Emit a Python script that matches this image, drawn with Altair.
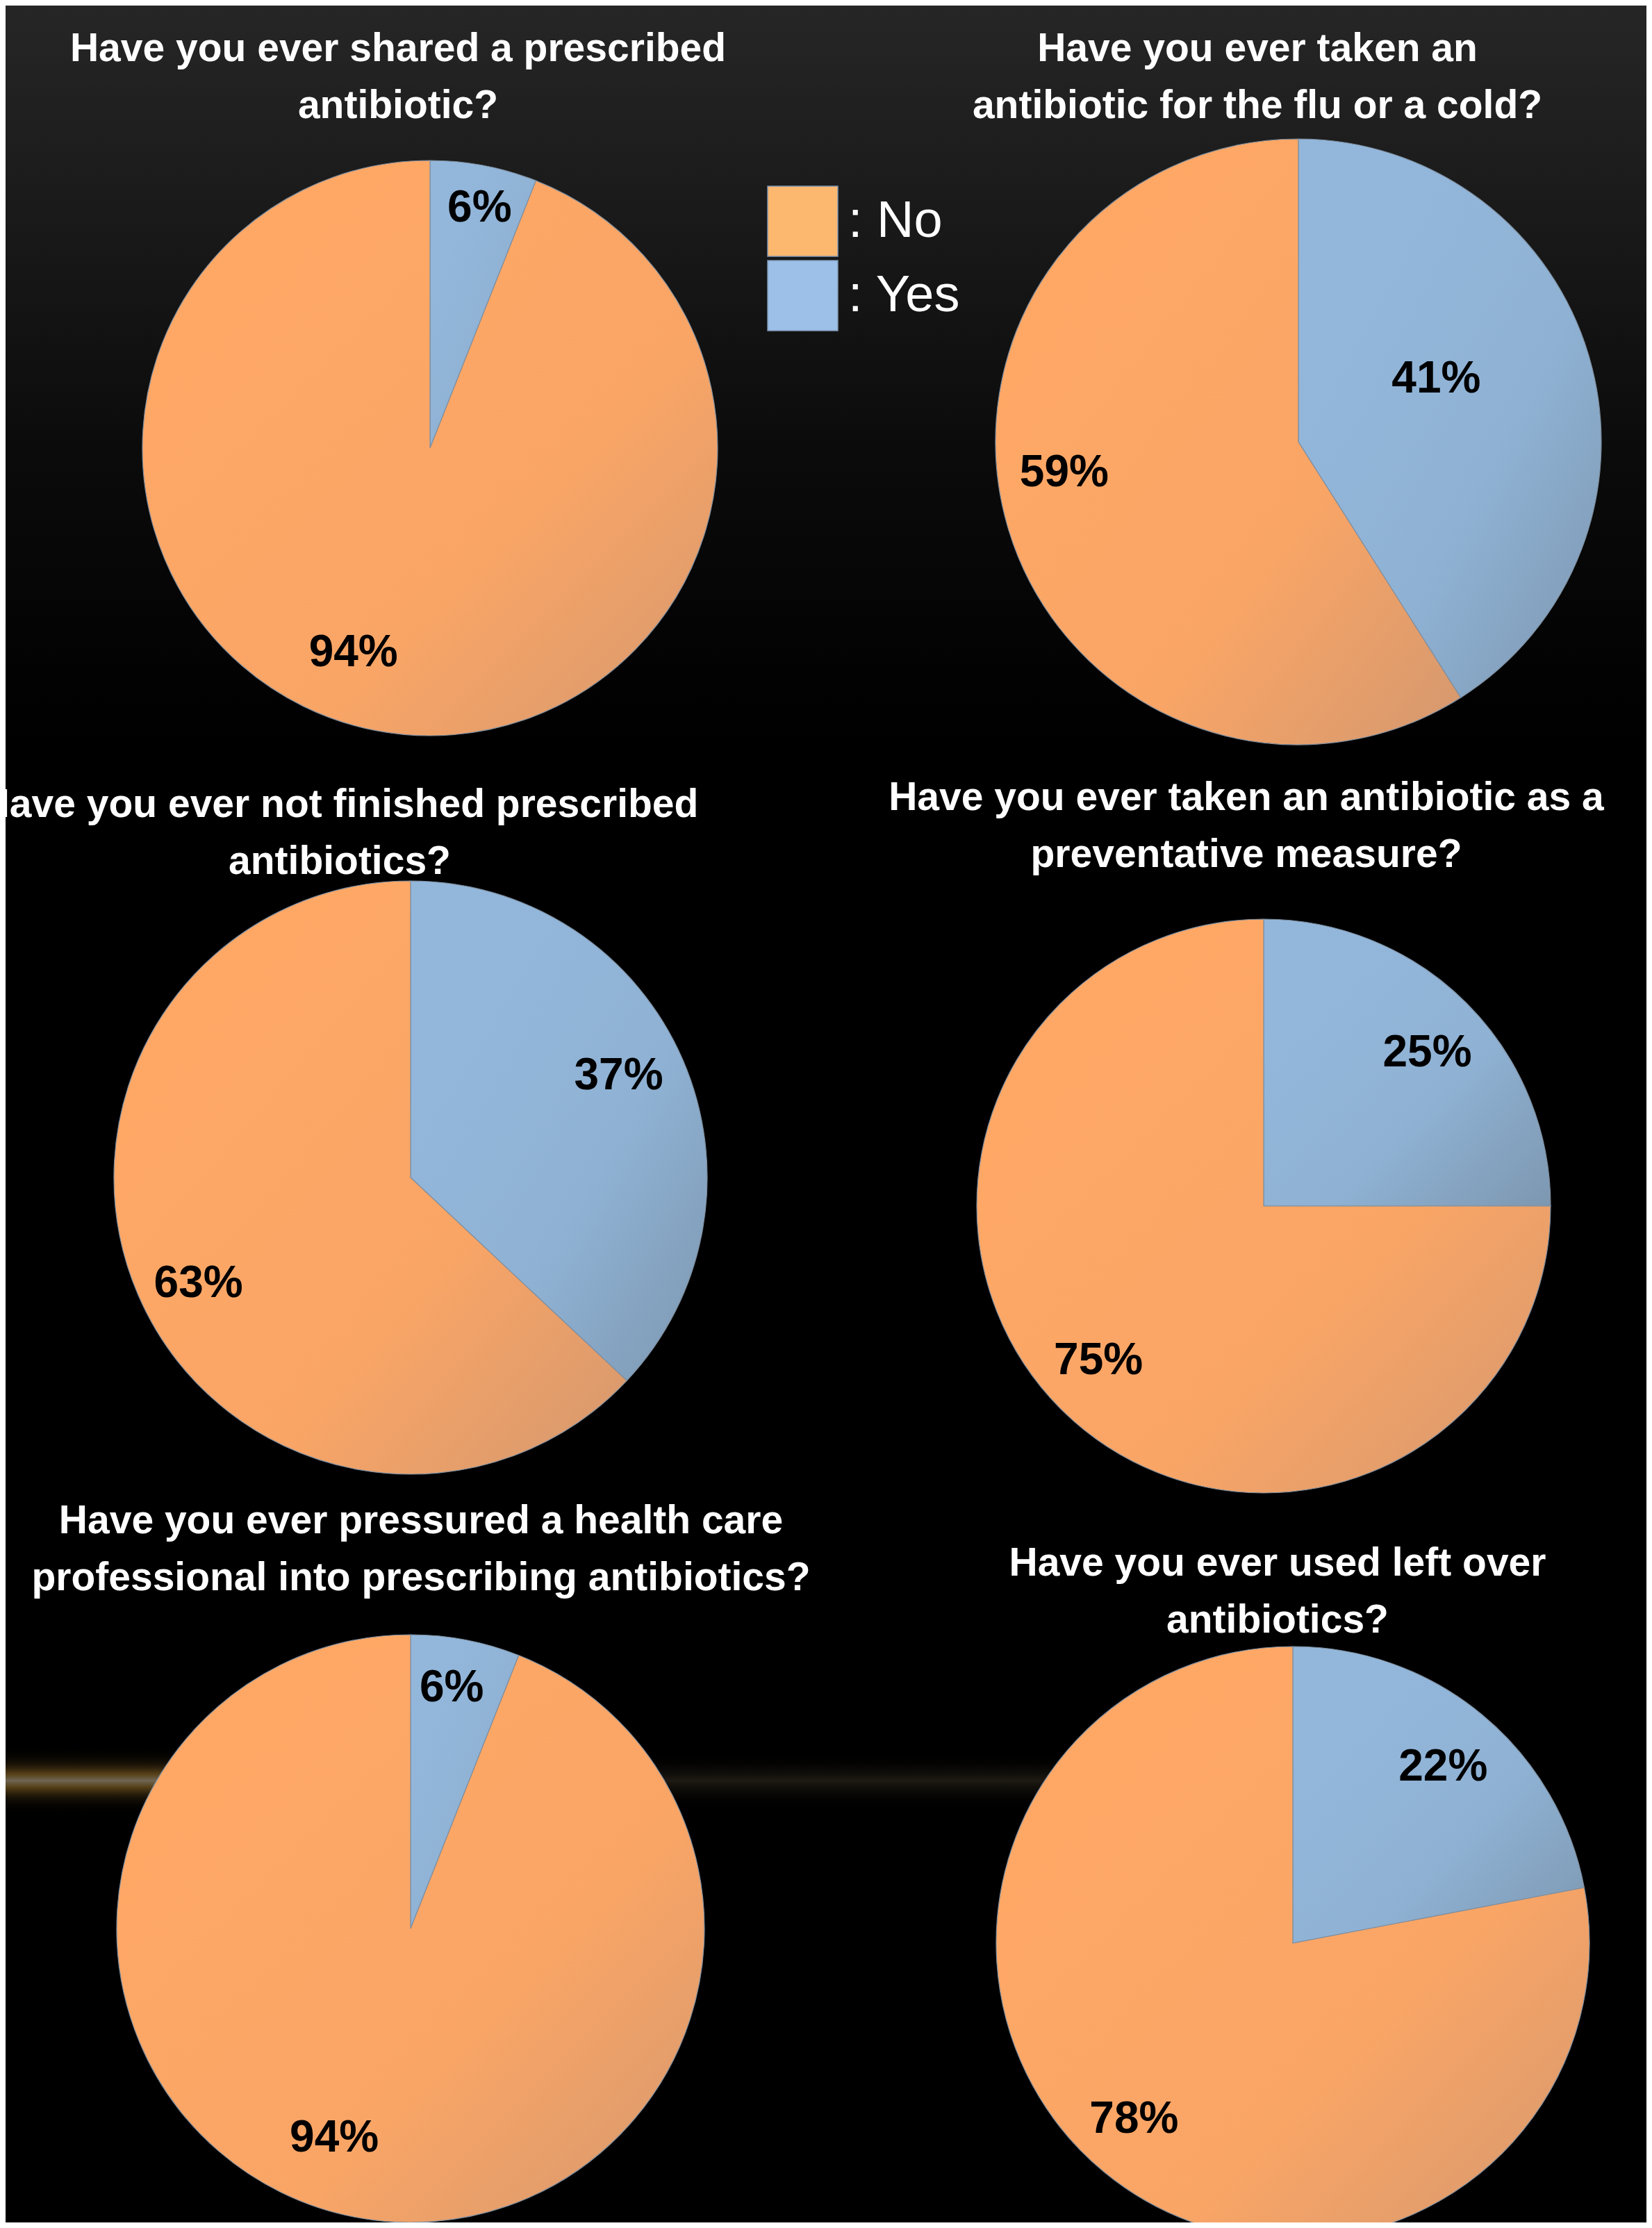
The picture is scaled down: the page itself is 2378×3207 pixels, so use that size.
import altair as alt
import pandas as pd

W, H = 2362, 3191

# ---------------- data ----------------
questions = [
    "Have you ever shared a prescribed\nantibiotic?",
    "Have you ever taken an\nantibiotic for the flu or a cold?",
    "Have you ever not finished prescribed\nantibiotics?",
    "Have you ever taken an antibiotic as a\npreventative measure?",
    "Have you ever pressured a health care\nprofessional into prescribing antibiotics?",
    "Have you ever used left over\nantibiotics?",
]
answers = ["Yes", "No"]
yes_pct = [6, 41, 37, 25, 6, 22]
no_pct = [94, 59, 63, 75, 94, 78]

# ---------------- layout (positions / sizes) ----------------
pie_cx = [611, 1861, 583, 1811, 583, 1853]
pie_cy = [637, 628, 1687, 1728, 2768, 2789]
pie_r = [414, 436, 427, 413, 423, 427]
title_cx = [565, 1802, 481, 1786, 598, 1831]
title_y = [80, 80, 1168, 1158, 2199, 2260]
# label placement: radius as fraction of pie radius, angular nudge in percent units
label_rf = {"Yes": [0.85, 0.50, 0.78, 0.78, 0.83, 0.78],
            "No": [0.76, 0.78, 0.80, 0.79, 0.76, 0.80]}
label_dt = {"Yes": [0.25, -2.3, -0.7, 0.55, -0.3, 0.25],
            "No": [2.7, 2.4, -0.9, 0.5, 2.55, 0.67]}

TITLE_FONT = "Liberation Sans, Arial, sans-serif"

rows = []
for i in range(len(questions)):
    for k, a in enumerate(answers):
        rows.append({"q": i, "answer": a, "order": k,
                     "pct": (yes_pct if a == "Yes" else no_pct)[i]})
df = pd.DataFrame(rows)
titles_df = pd.DataFrame({"q": list(range(len(questions))), "title": questions})
one = pd.DataFrame({"a": [0]})

def lg(stops, x1=0, y1=0, x2=1, y2=1):
    return alt.LinearGradient(
        gradient="linear",
        stops=[alt.GradientStop(color=c, offset=o) for o, c in stops],
        x1=x1, y1=y1, x2=x2, y2=y2)

slice_fill = {
    "No": lg([(0, "#FFA866"), (0.55, "#F9A566"), (1, "#D4986F")], 0.2, 0.2, 1, 1),
    "Yes": lg([(0, "#93B7DB"), (0.5, "#8FB2D4"), (1, "#7D97B0")], 0.2, 0.2, 1, 1),
}

theta_scale = alt.Scale(domain=[0, 100], range=[0, 6.283185307179586])

layers = []

# background vertical gradient
layers.append(
    alt.Chart(one).mark_rect(
        color=lg([(0, "#262626"), (0.07, "#1d1d1d"), (0.2, "#0b0b0b"), (0.33, "#000000"), (1, "#000000")], 0, 0, 0, 1)
    ).encode(x=alt.value(0), x2=alt.value(W), y=alt.value(0), y2=alt.value(H))
)
# light streak
layers.append(
    alt.Chart(one).mark_rect(
        color=lg([(0, "rgba(0,0,0,0)"), (0.5, "rgba(60,52,38,0.5)"), (1, "rgba(0,0,0,0)")], 0, 0, 0, 1)
    ).encode(x=alt.value(0), x2=alt.value(1520), y=alt.value(2515), y2=alt.value(2595))
)
layers.append(
    alt.Chart(one).mark_rect(
        color=lg([(0, "rgba(0,0,0,0)"), (0.25, "rgba(50,35,10,0.4)"), (0.4, "rgba(120,88,30,0.65)"),
                  (0.5, "rgba(125,115,95,0.85)"), (0.6, "rgba(120,88,30,0.65)"), (0.75, "rgba(50,35,10,0.4)"),
                  (1, "rgba(0,0,0,0)")], 0, 0, 0, 1)
    ).encode(x=alt.value(0), x2=alt.value(600), y=alt.value(2505), y2=alt.value(2605))
)

base = alt.Chart(df).transform_stack(
    stack="pct", groupby=["q"], as_=["v0", "v1"],
    sort=[alt.SortField(field="order", order="ascending")])

for i in range(len(questions)):
    cx, cy, r = pie_cx[i], pie_cy[i], pie_r[i]
    for a in answers:
        sel = base.transform_filter((alt.datum.q == i) & (alt.datum.answer == a))
        layers.append(
            sel.mark_arc(radius=r, color=slice_fill[a], stroke="#7f8fa0", strokeWidth=1.2).encode(
                theta=alt.Theta("v0:Q", scale=theta_scale, stack=False),
                theta2="v1:Q",
                x=alt.value(cx), y=alt.value(cy))
        )
        layers.append(
            sel.transform_calculate(mid=f"(datum.v0 + datum.v1) / 2 + ({label_dt[a][i]})",
                                    label="datum.pct + '%'")
            .mark_text(radius=label_rf[a][i] * r, font=TITLE_FONT, fontSize=64, fontWeight="bold",
                       color="#000000", align="center", baseline="middle")
            .encode(theta=alt.Theta("mid:Q", scale=theta_scale, stack=False),
                    text="label:N", x=alt.value(cx), y=alt.value(cy))
        )
    layers.append(
        alt.Chart(titles_df).transform_filter(alt.datum.q == i)
        .mark_text(font=TITLE_FONT, fontSize=57, fontWeight="bold", color="#ffffff",
                   align="center", baseline="alphabetic", lineBreak="\n", lineHeight=82)
        .encode(text="title:N", x=alt.value(title_cx[i]), y=alt.value(title_y[i]))
    )

# legend (carried by an invisible layer)
layers.append(
    alt.Chart(df).mark_square(opacity=0, filled=True).encode(
        color=alt.Color("answer:N",
                        scale=alt.Scale(domain=["No", "Yes"], range=["#FDB870", "#9DC0E8"]),
                        legend=alt.Legend(title=None, orient="none", legendX=1096, legendY=259,
                                          symbolType="square", symbolSize=10200,
                                          symbolStrokeColor="#7f97b3", symbolStrokeWidth=1.5,
                                          symbolOpacity=1,
                                          labelFont="Liberation Sans, Arial, sans-serif",
                                          labelFontSize=74, labelColor="#ffffff",
                                          labelExpr="': ' + datum.label", labelOffset=14,
                                          rowPadding=0, padding=0, labelLimit=400)))
)

chart = alt.layer(*layers).properties(
    width=W, height=H, padding=0,
    autosize=alt.AutoSizeParams(type="none"),
    background="#000000",
).configure_view(strokeWidth=0)

chart.save("out.html", embed_options={"renderer": "svg", "actions": False})
